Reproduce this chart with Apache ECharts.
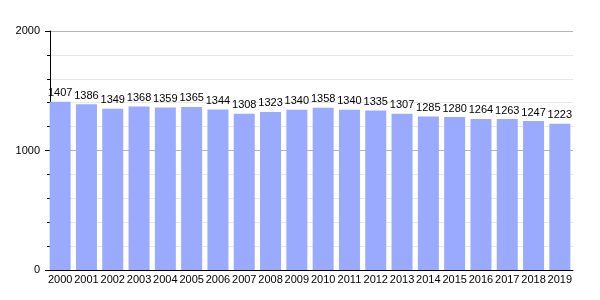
<!DOCTYPE html>
<html><head><meta charset="utf-8">
<script src="https://cdn.jsdelivr.net/npm/echarts@6/dist/echarts.min.js"></script>
<style>html,body{margin:0;padding:0;background:#fff}#c{width:600px;height:300px}</style>
</head><body><div id="c"></div>
<script>
const years = ["2000","2001","2002","2003","2004","2005","2006","2007","2008","2009","2010","2011","2012","2013","2014","2015","2016","2017","2018","2019"];
const population = [1407,1386,1349,1368,1359,1365,1344,1308,1323,1340,1358,1340,1335,1307,1285,1280,1264,1263,1247,1223];
const yTicks = [0, 1000, 2000];

const chart = echarts.init(document.getElementById('c'), null, {renderer:'canvas'});
const font = 'Liberation Sans, Arial, sans-serif';
chart.setOption({
  animation: false,
  grid: {left: 47, right: 27, top: 31, bottom: 30},
  xAxis: {
    type: 'category', data: years,
    axisLine: {lineStyle: {color: '#000', width: 1}},
    axisTick: {show: false},
    axisLabel: {color: '#000', fontSize: 11, fontFamily: font, margin: 4, interval: 0}
  },
  yAxis: {
    type: 'value', min: yTicks[0], max: yTicks[yTicks.length-1], interval: 1000,
    offset: -3,
    axisLine: {show: true, lineStyle: {color: '#000', width: 1}},
    axisTick: {show: true, length: 5, lineStyle: {color: '#000'}},
    minorTick: {show: true, splitNumber: 5, length: 3, lineStyle: {color: '#000'}},
    splitLine: {show: true, lineStyle: {color: '#b4b4b4', width: 1}},
    minorSplitLine: {show: true, lineStyle: {color: '#e8e8e8', width: 1}},
    axisLabel: {color: '#000', fontSize: 11, fontFamily: font, margin: 10, formatter: v => String(v)}
  },
  series: [{
    type: 'bar', data: population, barWidth: 21,
    itemStyle: {color: '#99aaff'},
    label: {show: true, position: 'top', color: '#000', fontSize: 11, fontFamily: font, distance: 3}
  }]
});
</script></body></html>
